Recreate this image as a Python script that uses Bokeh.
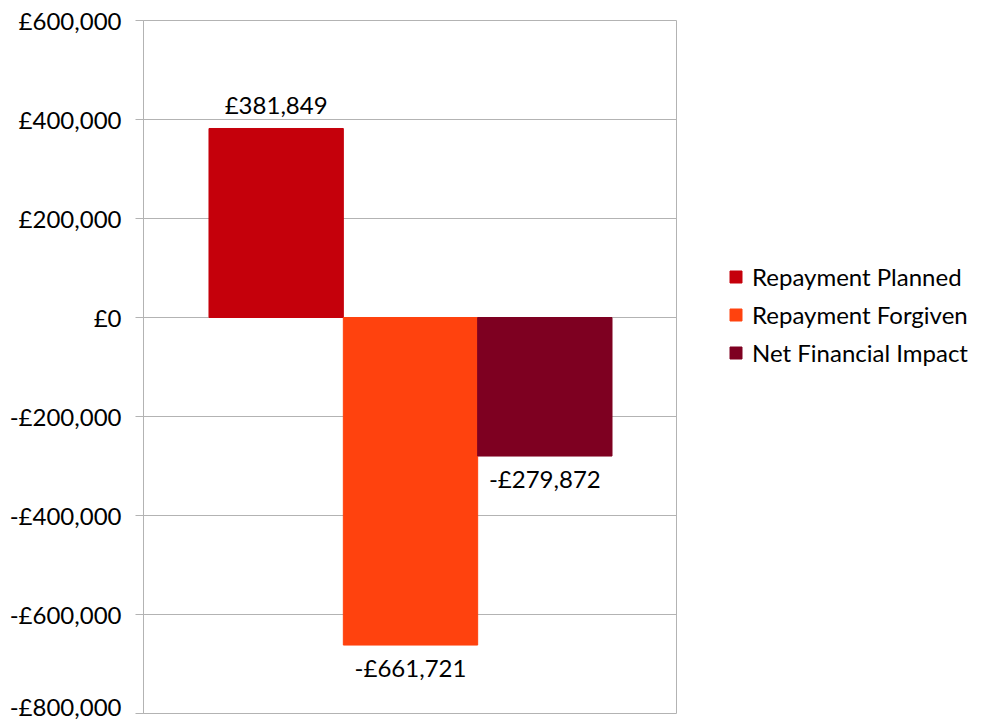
from bokeh.plotting import figure
from bokeh.models import (ColumnDataSource, Range1d, FactorRange, Legend, LegendItem,
                          CustomJSTickFormatter, FixedTicker, LabelSet)
from bokeh.layouts import row
from bokeh.core.properties import value
from bokeh.embed import file_html
from bokeh.resources import INLINE

series = ["Repayment Planned", "Repayment Forgiven", "Net Financial Impact"]
values = [381849, -661721, -279872]
colors = ["#C5000B", "#FF420E", "#7E0021"]
y_ticks = [-800000, -600000, -400000, -200000, 0, 200000, 400000, 600000]

FONT = "Lato"
FS = "24px"

labels = [("-" if v < 0 else "") + "£" + f"{abs(v):,}" for v in values]
src = ColumnDataSource(dict(x=series, top=values, color=colors, label=labels,
                            base=[0] * len(values)))
pos = ColumnDataSource(dict(x=[s for s, v in zip(series, values) if v >= 0],
                            y=[v for v in values if v >= 0],
                            label=[l for l, v in zip(labels, values) if v >= 0]))
neg = ColumnDataSource(dict(x=[s for s, v in zip(series, values) if v < 0],
                            y=[v for v in values if v < 0],
                            label=[l for l, v in zip(labels, values) if v < 0]))

p = figure(width=677, height=720, output_backend="svg", toolbar_location=None,
           x_range=FactorRange(factors=series, range_padding=0.4875,
                               range_padding_units="absolute"),
           y_range=Range1d(y_ticks[0], y_ticks[-1]))
p.min_border_left = 143
p.min_border_top = 20
p.min_border_bottom = 7
p.min_border_right = 0

p.vbar(x="x", top="top", bottom="base", width=1.0, color="color", source=src)

p.add_layout(LabelSet(x="x", y="y", text="label", source=pos, text_align="center",
                      text_baseline="bottom", y_offset=9, text_font=value(FONT),
                      text_font_size=value(FS), text_color="#000000"))
p.add_layout(LabelSet(x="x", y="y", text="label", source=neg, text_align="center",
                      text_baseline="top", y_offset=-8, text_font=value(FONT),
                      text_font_size=value(FS), text_color="#000000"))

p.xaxis.visible = False
p.xgrid.visible = False
p.ygrid.grid_line_color = "#b3b3b3"
p.ygrid.grid_line_width = 1
p.yaxis.ticker = FixedTicker(ticks=y_ticks)
p.yaxis.formatter = CustomJSTickFormatter(code="""
    const a = Math.abs(tick);
    const s = a.toString().replace(/\\B(?=(\\d{3})+(?!\\d))/g, ",");
    return (tick < 0 ? "-" : "") + "£" + s;
""")
p.yaxis.axis_line_color = "#b3b3b3"
p.yaxis.major_tick_line_color = "#b3b3b3"
p.yaxis.major_tick_out = 8
p.yaxis.major_tick_in = 0
p.yaxis.minor_tick_line_color = None
p.yaxis.major_label_standoff = 14
p.yaxis.major_label_text_font = FONT
p.yaxis.major_label_text_font_size = FS
p.yaxis.major_label_text_color = "#000000"
p.outline_line_color = "#b3b3b3"

# legend panel: the same bars as a hidden renderer, used only for legend swatches
q = figure(width=301, height=720, output_backend="svg", toolbar_location=None,
           x_range=FactorRange(factors=series),
           y_range=Range1d(y_ticks[0], y_ticks[-1]))
q.min_border = 0
q.axis.visible = False
q.grid.visible = False
q.outline_line_color = None
rq = q.vbar(x="x", top="top", bottom="base", width=1.0, color="color", source=src)
rq.visible = False
items = [LegendItem(label=s, renderers=[rq], index=i) for i, s in enumerate(series)]
legend = Legend(items=items, location=(51, 346), orientation="vertical",
                border_line_color=None, background_fill_alpha=0,
                glyph_width=15, glyph_height=15, label_height=30, spacing=8,
                padding=10, margin=0, label_standoff=9,
                inactive_fill_alpha=0,
                label_text_font=FONT, label_text_font_size=FS,
                label_text_color="#000000")
q.add_layout(legend, "center")

layout = row(p, q, spacing=0)
open("out.html", "w").write(file_html(layout, INLINE))
